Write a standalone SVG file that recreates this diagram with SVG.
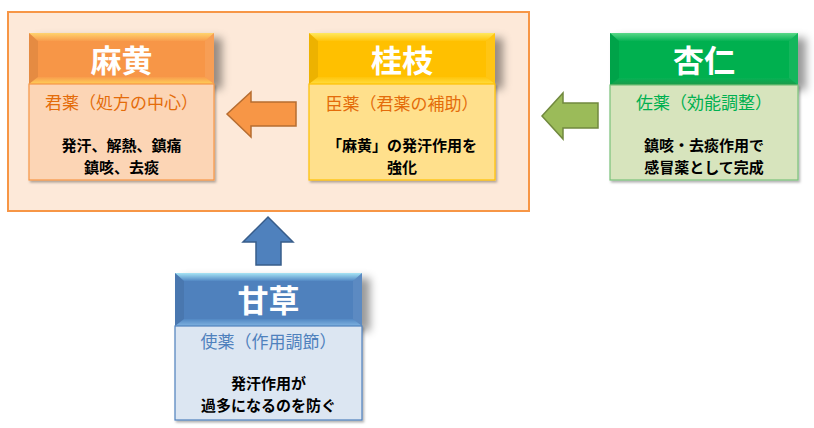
<svg xmlns="http://www.w3.org/2000/svg" width="814" height="428" viewBox="0 0 814 428">
<defs>
<filter id="hs" x="-10%" y="-30%" width="130%" height="180%"><feDropShadow dx="8" dy="5" stdDeviation="4.5" flood-color="#000" flood-opacity="0.4"/></filter>
<filter id="bs" x="-5%" y="-5%" width="115%" height="115%"><feDropShadow dx="1.5" dy="2" stdDeviation="1.2" flood-color="#000" flood-opacity="0.3"/></filter>
<linearGradient id="tO" x1="0" y1="0" x2="0" y2="1"><stop offset="0" stop-color="#FFD36E"/><stop offset="1" stop-color="#F89C4C"/></linearGradient>
<linearGradient id="bO" x1="0" y1="0" x2="0" y2="1"><stop offset="0" stop-color="#F89C4C"/><stop offset="1" stop-color="#FFCF5A"/></linearGradient>
<linearGradient id="tY" x1="0" y1="0" x2="0" y2="1"><stop offset="0" stop-color="#FFE860"/><stop offset="1" stop-color="#FFC40A"/></linearGradient>
<linearGradient id="bY" x1="0" y1="0" x2="0" y2="1"><stop offset="0" stop-color="#FFC40A"/><stop offset="1" stop-color="#FFDD40"/></linearGradient>
<linearGradient id="tG" x1="0" y1="0" x2="0" y2="1"><stop offset="0" stop-color="#5AD888"/><stop offset="1" stop-color="#06B254"/></linearGradient>
<linearGradient id="bG" x1="0" y1="0" x2="0" y2="1"><stop offset="0" stop-color="#06B254"/><stop offset="1" stop-color="#1E9A4A"/></linearGradient>
<linearGradient id="tB" x1="0" y1="0" x2="0" y2="1"><stop offset="0" stop-color="#A6E4F4"/><stop offset="1" stop-color="#5288C4"/></linearGradient>
<linearGradient id="bB" x1="0" y1="0" x2="0" y2="1"><stop offset="0" stop-color="#5288C4"/><stop offset="1" stop-color="#7FB2E0"/></linearGradient>
</defs>
<style>
text{font-family:"Noto Sans CJK JP","Noto Sans CJK SC",sans-serif;text-anchor:middle}
.ttl{font-size:31px;font-weight:700;fill:#fff}
.sub{font-size:17px}
.bd{font-size:15px;font-weight:700;fill:#000}
.side{fill:#000;opacity:0.07}
.sideR{fill:#fff;opacity:0.08}
</style>
<rect id="frame" x="8" y="12" width="521" height="199" fill="#FDE9D9" stroke="#F79646" stroke-width="2"/>

<g id="connectors">
<polygon points="227,114 251,92 251,102 296,102 296,126 251,126 251,137" fill="#F79646" stroke="#B66D31" stroke-width="1.5"/>
<polygon points="542,116 563,93 563,103 598,103 598,128 563,128 563,139" fill="#9BBB59" stroke="#71893F" stroke-width="1.5"/>
<polygon points="268,217 293,242 281,242 281,265 256,265 256,242 243,242" fill="#4F81BD" stroke="#385D8A" stroke-width="1.5"/>
</g>

<g id="mao">
<g filter="url(#hs)"><rect x="29" y="33" width="185" height="51" fill="#F79646"/></g>
<polygon points="29,33 214,33 205,41 38,41" fill="url(#tO)"/>
<polygon points="38,77 205,77 214,84 29,84" fill="url(#bO)"/>
<polygon points="29,33 38,41 38,77 29,84" class="side"/>
<polygon points="214,33 205,41 205,77 214,84" class="sideR"/>
<rect x="29" y="84" width="185" height="96" fill="#FCD5B5" stroke="#F79646" stroke-width="1.2" filter="url(#bs)"/>
<text class="ttl" x="121.5" y="72">麻黄</text>
<text class="sub" x="121.5" y="109" fill="#E46C0A">君薬（処方の中心）</text>
<text class="bd" x="121.5" y="151">発汗、解熱、鎮痛</text>
<text class="bd" x="121.5" y="173">鎮咳、去痰</text>
</g>

<g id="keishi">
<g filter="url(#hs)"><rect x="309" y="33" width="186" height="51" fill="#FFC000"/></g>
<polygon points="309,33 495,33 486,41 318,41" fill="url(#tY)"/>
<polygon points="318,77 486,77 495,84 309,84" fill="url(#bY)"/>
<polygon points="309,33 318,41 318,77 309,84" class="side"/>
<polygon points="495,33 486,41 486,77 495,84" class="sideR"/>
<rect x="309" y="84" width="186" height="96" fill="#FFE08C" stroke="#FFC000" stroke-width="1.2" filter="url(#bs)"/>
<text class="ttl" x="402" y="72">桂枝</text>
<text class="sub" x="402" y="110" fill="#E46C0A">臣薬（君薬の補助）</text>
<text class="bd" x="402" y="151">「麻黄」の発汗作用を</text>
<text class="bd" x="402" y="173">強化</text>
</g>

<g id="kyonin">
<g filter="url(#hs)"><rect x="610" y="33" width="188" height="52" fill="#00B050"/></g>
<polygon points="610,33 798,33 789,41 619,41" fill="url(#tG)"/>
<polygon points="619,78 789,78 798,85 610,85" fill="url(#bG)"/>
<polygon points="610,33 619,41 619,78 610,85" class="side"/>
<polygon points="798,33 789,41 789,78 798,85" class="sideR"/>
<rect x="610" y="85" width="188" height="95" fill="#D7E4BD" stroke="#7AC27A" stroke-width="1.2" filter="url(#bs)"/>
<text class="ttl" x="704" y="72">杏仁</text>
<text class="sub" x="704" y="109" fill="#00B050">佐薬（効能調整）</text>
<text class="bd" x="704" y="151">鎮咳・去痰作用で</text>
<text class="bd" x="704" y="173">感冒薬として完成</text>
</g>

<g id="kanzo">
<g filter="url(#hs)"><rect x="175" y="273" width="187" height="53" fill="#4F81BD"/></g>
<polygon points="175,273 362,273 353,281 184,281" fill="url(#tB)"/>
<polygon points="184,319 353,319 362,326 175,326" fill="url(#bB)"/>
<polygon points="175,273 184,281 184,319 175,326" class="side"/>
<polygon points="362,273 353,281 353,319 362,326" class="sideR"/>
<rect x="175" y="326" width="187" height="94" fill="#DCE6F2" stroke="#4F81BD" stroke-width="1.2" filter="url(#bs)"/>
<text class="ttl" x="268.5" y="312">甘草</text>
<text class="sub" x="268.5" y="348" fill="#4F81BD">使薬（作用調節）</text>
<text class="bd" x="268.5" y="389">発汗作用が</text>
<text class="bd" x="268.5" y="411">過多になるのを防ぐ</text>
</g>
</svg>
